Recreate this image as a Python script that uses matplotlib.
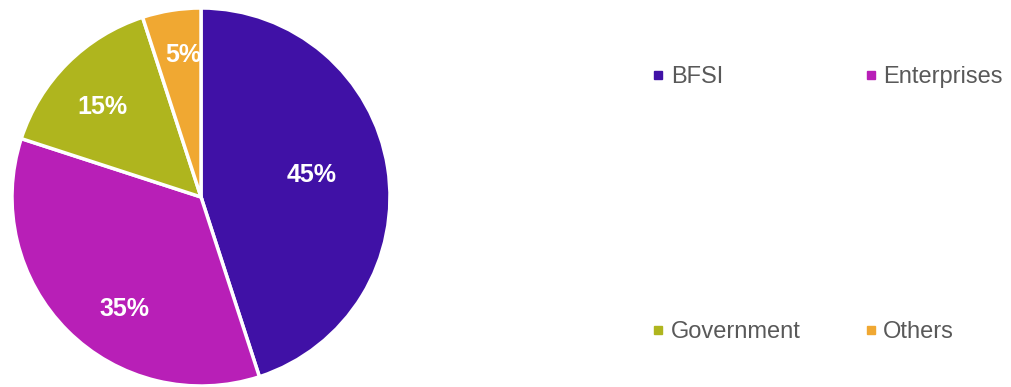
import matplotlib
from matplotlib import pyplot as plt
from matplotlib.lines import Line2D

matplotlib.use('Agg')

segments = ['BFSI', 'Enterprises', 'Government', 'Others']
shares = [45, 35, 15, 5]
colors = ['#4011A6', '#B81FB7', '#AFB51E', '#F0A832']
# where each percentage sits inside its slice, in units of the radius
label_pos = [(0.587, 0.114), (-0.405, -0.595), (-0.524, 0.474), (-0.095, 0.752)]

plt.rcParams['font.family'] = ['Liberation Sans', 'DejaVu Sans']

W, H = 1011, 387
fig = plt.figure(figsize=(W / 100, H / 100), dpi=100)
cx, cy, r = 201, 197, 189
ax = fig.add_axes([(cx - r) / W, (H - cy - r) / H, 2 * r / W, 2 * r / H])

wedges, _ = ax.pie(shares, colors=colors, startangle=90, counterclock=False,
                   wedgeprops=dict(edgecolor='white', linewidth=2.5))
ax.set_aspect('equal')
ax.set_xlim(-1, 1)
ax.set_ylim(-1, 1)

for val, (x, y) in zip(shares, label_pos):
    ax.text(x, y, '%d%%' % val, color='white', fontsize=18,
            fontweight='bold', ha='center', va='center')

handles = [Line2D([], [], marker='s', ls='none', markersize=5.5, color=c) for c in colors]
order = [0, 2, 1, 3]
fig.legend([handles[i] for i in order], [segments[i] for i in order],
           ncol=2, loc='upper left', bbox_to_anchor=(653 / W, 1 - 66 / H),
           frameon=False, fontsize=17, labelcolor='#595959', handlelength=0.45,
           handletextpad=0.3, labelspacing=9.88, columnspacing=2.75,
           borderpad=0, borderaxespad=0)

fig.savefig('out.png', dpi=100)
